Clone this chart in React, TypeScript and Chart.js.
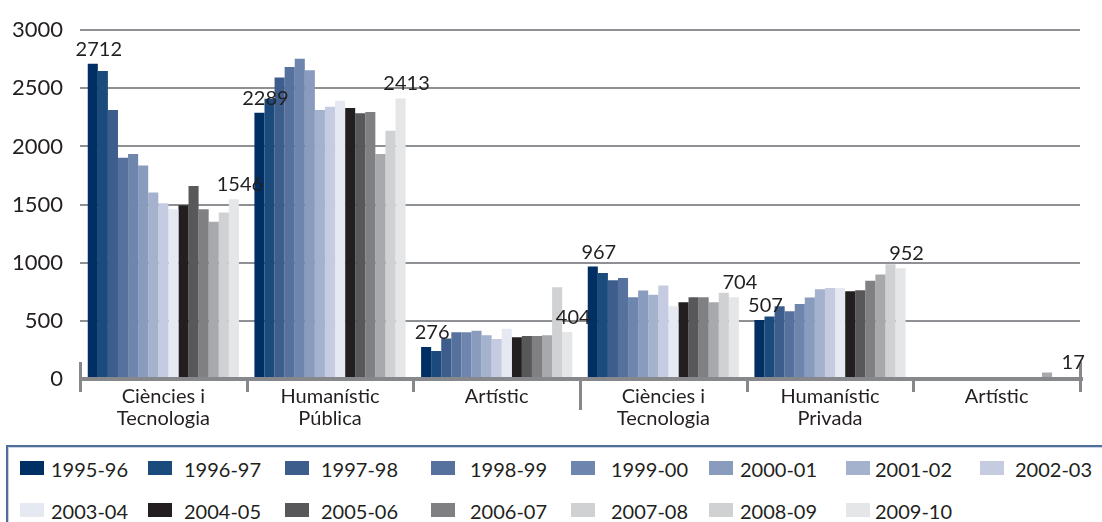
import React, { useEffect, useRef } from "react";
import { Chart, registerables } from "chart.js";

Chart.register(...registerables);

// ---------- data ----------
const categories: string[][] = [
  ["Ciències i", "Tecnologia"],
  ["Humanístic", "Pública"],
  ["Artístic"],
  ["Ciències i", "Tecnologia"],
  ["Humanístic", "Privada"],
  ["Artístic"],
];

const seasons = [
  "1995-96", "1996-97", "1997-98", "1998-99", "1999-00", "2000-01", "2001-02", "2002-03",
  "2003-04", "2004-05", "2005-06", "2006-07", "2007-08", "2008-09", "2009-10",
];

// values per category, one per season
const cienciesPublica = [2712, 2649, 2314, 1902, 1936, 1836, 1604, 1512, 1461, 1495, 1660, 1461, 1353, 1433, 1546];
const humanisticPublica = [2289, 2410, 2593, 2683, 2755, 2655, 2314, 2342, 2393, 2331, 2286, 2297, 1936, 2135, 2413];
const artisticPublica = [276, 241, 349, 403, 403, 415, 377, 343, 432, 360, 369, 369, 377, 790, 404];
const cienciesPrivada = [967, 912, 849, 869, 704, 761, 724, 804, 625, 661, 704, 704, 661, 742, 704];
const humanisticPrivada = [507, 538, 626, 583, 646, 700, 771, 782, 782, 754, 763, 845, 899, 987, 952];
const artisticPrivada: (number | null)[] = [null, null, null, null, null, null, null, null, null, null, null, null, 55, null, 17];

const categoryValues = [
  cienciesPublica,
  humanisticPublica,
  artisticPublica,
  cienciesPrivada,
  humanisticPrivada,
  artisticPrivada,
];

const yTicks = [0, 500, 1000, 1500, 2000, 2500, 3000];

// ---------- styles ----------
const seriesColors = [
  "#002f63", "#1b4a7c", "#3d5d8c", "#56719d", "#6e86ad", "#8a9cbe", "#a4b2ce", "#c5cbe0",
  "#e6e9f2", "#231f20", "#58585a", "#808083", "#a8a9ac", "#d0d1d3", "#e5e6e7",
];
const legendColors = [
  "#002f63", "#1b4a7c", "#3d5d8c", "#56719d", "#6e86ad", "#8a9cbe", "#a4b2ce", "#c5cbe0",
  "#e6e9f2", "#231f20", "#58585a", "#808083", "#d0d1d3", "#d0d1d3", "#e5e6e7",
];
const FONT = "Lato, 'Open Sans', sans-serif";
const TEXT = "#231f20";
const AXIS = "#87888c";

// legend layout (px, relative to legend content box)
const legendSwatchLeft = [12, 140, 277, 423, 563, 701, 838, 972];
const legendTextLeft = [43, 176, 313, 462, 603, 732, 867, 1007];

const overlayPlugin = {
  id: "overlay",
  afterDatasetsDraw(chart: any) {
    const { ctx, chartArea } = chart;
    const xs = chart.scales.x;
    const n = categories.length;
    const step = (chartArea.right - chartArea.left) / n;
    const start = xs.getPixelForValue(0) - step / 2;
    ctx.save();
    // axis line
    ctx.strokeStyle = AXIS;
    ctx.lineWidth = 4;
    ctx.beginPath();
    ctx.moveTo(chartArea.left - 1, chartArea.bottom);
    ctx.lineTo(chartArea.right + 3, chartArea.bottom);
    ctx.stroke();
    // category separators
    ctx.lineWidth = 3;
    for (let i = 0; i <= n; i++) {
      const bx = Math.round(start + i * step) + 0.5;
      const top = i === 0 || i === n ? chartArea.bottom - 17 : chartArea.bottom;
      const bottom = i === 3 ? chartArea.bottom + 31 : chartArea.bottom + 13;
      ctx.beginPath();
      ctx.moveTo(bx, top);
      ctx.lineTo(bx, bottom);
      ctx.stroke();
    }
    // data labels for first and last season
    ctx.font = `20px ${FONT}`;
    ctx.fillStyle = TEXT;
    ctx.textAlign = "center";
    ctx.textBaseline = "alphabetic";
    const last = chart.data.datasets.length - 1;
    [0, last].forEach((di) => {
      const meta = chart.getDatasetMeta(di);
      const data = chart.data.datasets[di].data;
      meta.data.forEach((el: any, i: number) => {
        const v = data[i];
        if (v === null || v === undefined) return;
        ctx.fillText(String(v), el.x + 6, el.y - 8);
      });
    });
    ctx.restore();
  },
};

export default function App() {
  const canvasRef = useRef<HTMLCanvasElement | null>(null);

  useEffect(() => {
    if (!canvasRef.current) return;
    const datasets = seasons.map((s, si) => ({
      label: s,
      data: categoryValues.map((cat) => cat[si]),
      backgroundColor: seriesColors[si],
      borderWidth: 0,
      categoryPercentage: 0.907,
      barPercentage: 1.0,
    }));
    const chart = new Chart(canvasRef.current, {
      type: "bar",
      data: { labels: categories, datasets },
      options: {
        animation: false,
        responsive: false,
        maintainAspectRatio: false,
        layout: { padding: { top: 27, right: 22, left: 0, bottom: 0 } },
        plugins: {
          legend: { display: false },
          tooltip: { enabled: false },
        },
        scales: {
          x: {
            grid: { display: false, drawTicks: false },
            border: { display: false },
            ticks: {
              color: TEXT,
              font: { family: FONT, size: 20, lineHeight: 1.1 },
              padding: 7,
              maxRotation: 0,
              autoSkip: false,
            },
            afterFit: (s: any) => {
              s.height = 61;
            },
          },
          y: {
            min: 0,
            max: 3000,
            afterBuildTicks: (s: any) => {
              s.ticks = yTicks.map((v) => ({ value: v }));
            },
            grid: { color: "#8f9094", lineWidth: 2, drawTicks: false },
            border: { display: false },
            ticks: {
              color: TEXT,
              font: { family: FONT, size: 22 },
              padding: 17,
              callback: (v: any) => String(v),
            },
            afterFit: (s: any) => {
              s.width = 80;
            },
          },
        },
      },
      plugins: [overlayPlugin],
    });
    return () => chart.destroy();
  }, []);

  const rows = [seasons.slice(0, 8), seasons.slice(8)];

  return (
    <div style={{ position: "absolute", left: 0, top: 0, width: 1102, height: 522, background: "#fff", overflow: "hidden" }}>
      <canvas ref={canvasRef} width={1102} height={440} style={{ display: "block", width: 1102, height: 440 }} />
      <div
        style={{
          position: "absolute",
          left: 6,
          top: 445,
          width: 1100,
          height: 90,
          borderTop: "2px solid #4f6e9a",
          borderLeft: "2px solid #4f6e9a",
          boxShadow: "inset 0 1px 0 #c9d3e3, inset 1px 0 0 #c9d3e3",
          fontFamily: FONT,
          fontSize: 20,
          color: TEXT,
        }}
      >
        {rows.map((row, ri) =>
          row.map((s, ci) => {
            const idx = ri * 8 + ci;
            return (
              <React.Fragment key={s}>
                <div
                  style={{
                    position: "absolute",
                    left: legendSwatchLeft[ci],
                    top: ri === 0 ? 14 : 56,
                    width: 24,
                    height: 14,
                    background: legendColors[idx],
                  }}
                />
                <div
                  style={{
                    position: "absolute",
                    left: legendTextLeft[ci],
                    top: ri === 0 ? 11 : 53,
                    lineHeight: "22px",
                    whiteSpace: "nowrap",
                  }}
                >
                  {s}
                </div>
              </React.Fragment>
            );
          })
        )}
      </div>
    </div>
  );
}
